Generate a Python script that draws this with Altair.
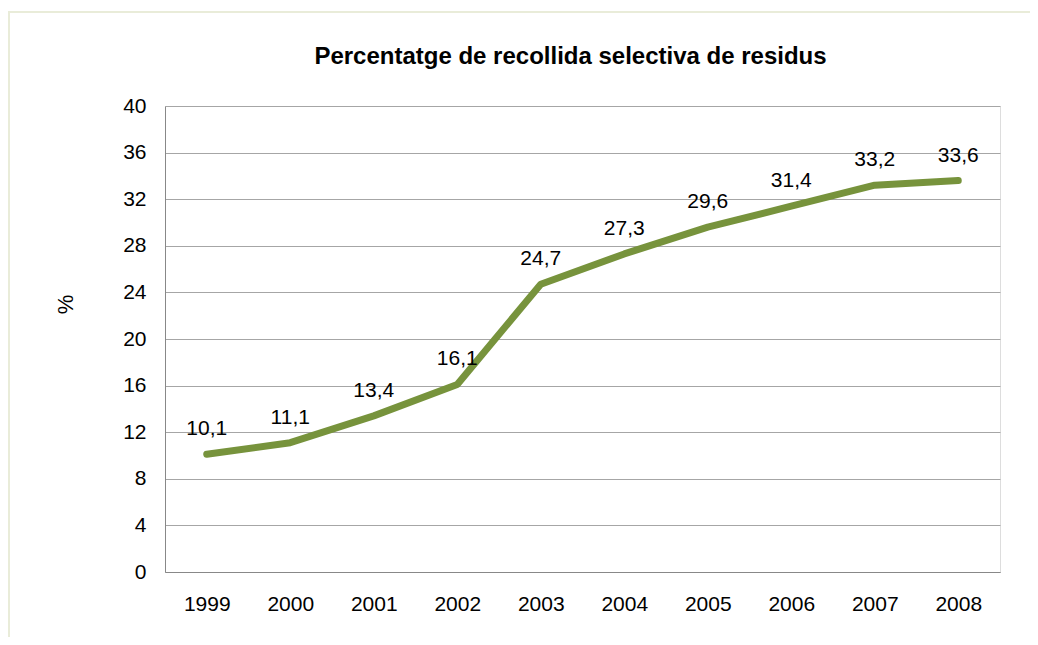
import altair as alt
import pandas as pd

years = ["1999", "2000", "2001", "2002", "2003", "2004", "2005", "2006", "2007", "2008"]
values = [10.1, 11.1, 13.4, 16.1, 24.7, 27.3, 29.6, 31.4, 33.2, 33.6]
y_ticks = [0, 4, 8, 12, 16, 20, 24, 28, 32, 36, 40]
title_text = "Percentatge de recollida selectiva de residus"

df = pd.DataFrame({
    "year": years,
    "value": values,
    "label": [f"{v:.1f}".replace(".", ",") for v in values],
})

FONT = "Liberation Sans"
W, H = 835, 466

x = alt.X("year:N", sort=years, title=None,
          scale=alt.Scale(type="point", padding=0.5),
          axis=alt.Axis(labelAngle=0, labelFontSize=21, labelFont=FONT, labelColor="#000",
                        labelPadding=21, ticks=False, domainColor="#888888", grid=False))
y = alt.Y("value:Q", title="%",
          scale=alt.Scale(domain=[0, 40], nice=False),
          axis=alt.Axis(values=y_ticks, labelFontSize=21, labelFont=FONT, labelColor="#000",
                        labelPadding=19, ticks=False, domainColor="#888888",
                        gridColor="#a6a6a6", gridWidth=1,
                        titleFont=FONT, titleFontSize=22, titleFontWeight="normal",
                        titleColor="#000", titleX=-88, titleY=H / 2 - 35, titleAngle=-90))

base = alt.Chart(df)

frame = alt.Chart(pd.DataFrame({"k": [0]})).mark_rect(
    fill=None, stroke="#e9ecd9", strokeWidth=2
).encode(x=alt.value(-156), x2=alt.value(W + 60), y=alt.value(-94), y2=alt.value(H + 80))

title = alt.Chart(pd.DataFrame({"t": [title_text]})).mark_text(
    font=FONT, fontSize=24, fontWeight="bold", color="#000", baseline="alphabetic", align="center"
).encode(x=alt.value(W / 2 - 12), y=alt.value(-42), text="t:N")

line = base.mark_line(color="#77933C", strokeWidth=7, strokeCap="round", strokeJoin="round").encode(x=x, y=y)
text = base.mark_text(dy=-25, fontSize=21, font=FONT, color="#000").encode(x=x, y=y, text="label:N")

chart = alt.layer(frame, title, line, text).properties(
    width=W, height=H,
    autosize=alt.AutoSizeParams(type="none"),
    padding={"left": 157, "top": 98, "right": 30, "bottom": 65},
).configure_view(stroke=None).configure(background="white")

chart.save("out.html", embed_options={"renderer": "svg", "actions": False})
